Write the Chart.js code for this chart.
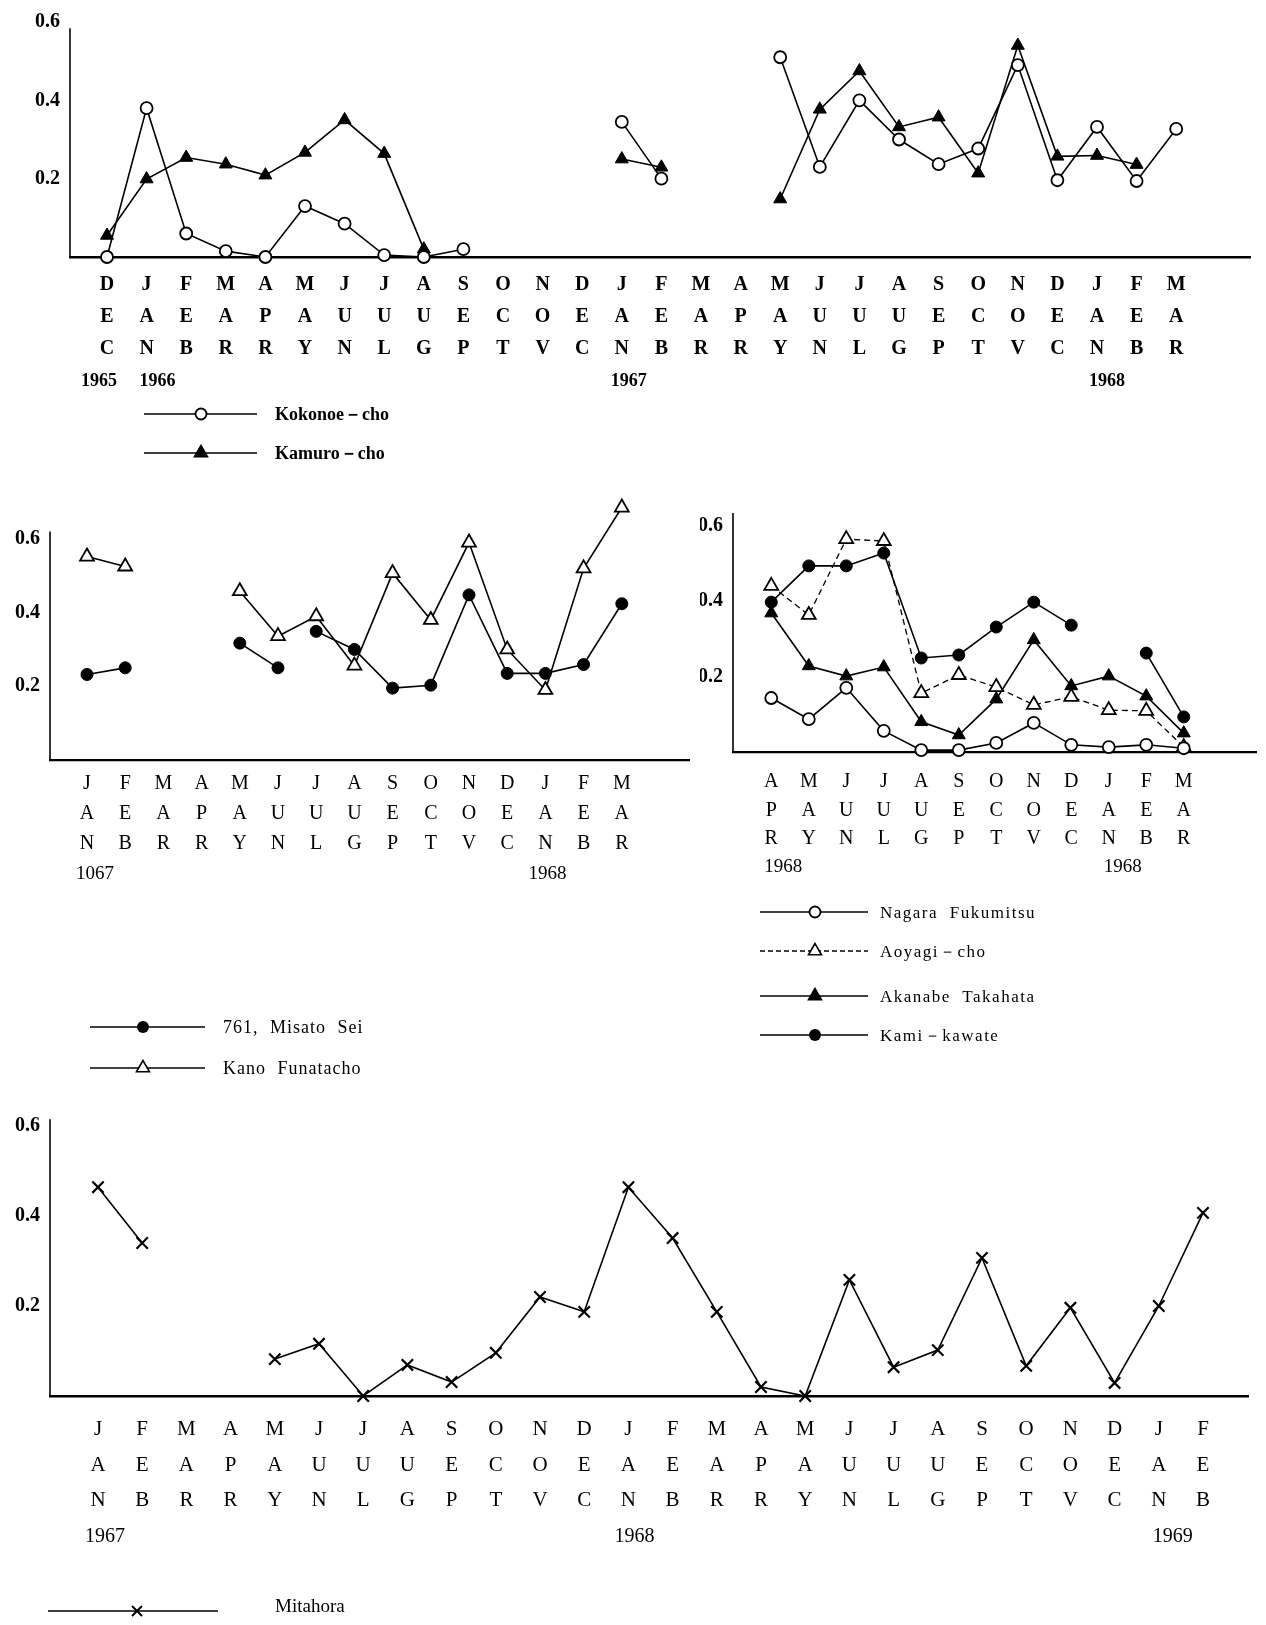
<!DOCTYPE html>
<html><head><meta charset="utf-8">
<script src="https://cdn.jsdelivr.net/npm/chart.js@4.4.1/dist/chart.umd.min.js"></script>
<style>
html,body{margin:0;padding:0;background:#fff;}
#page{position:relative;width:1266px;height:1625px;overflow:hidden;background:#fff;}
canvas{position:absolute;}
.leg{position:absolute;font-family:'Liberation Serif',serif;color:#000;white-space:nowrap;transform:translateY(-50%);line-height:1;}
svg.lg{position:absolute;left:0;top:0;width:1266px;height:1625px;overflow:visible;pointer-events:none;}
</style></head><body><div id="page">
<canvas id="c1"></canvas><canvas id="c2"></canvas><canvas id="c3"></canvas><canvas id="c4"></canvas>
<svg class="lg" id="lg" xmlns="http://www.w3.org/2000/svg"></svg>
</div>
<script>
// ---------- DATA ----------
const yTicks = [0.2, 0.4, 0.6];

// Chart 1: Dec 1965 - Mar 1968
const c1Months = ['DEC','JAN','FEB','MAR','APR','MAY','JUN','JUL','AUG','SEP','OCT','NOV','DEC','JAN','FEB','MAR','APR','MAY','JUN','JUL','AUG','SEP','OCT','NOV','DEC','JAN','FEB','MAR'];
const c1Years  = ['1965','1966','','','','','','','','','','','','1967','','','','','','','','','','','','1968','',''];
const c1Kokonoe = [0, 0.38, 0.06, 0.015, 0, 0.13, 0.085, 0.005, 0, 0.02, null, null, null, 0.345, 0.20, null, null, 0.51, 0.23, 0.40, 0.30, 0.237, 0.277, 0.49, 0.196, 0.332, 0.194, 0.327];
const c1Kamuro  = [0.055, 0.199, 0.254, 0.237, 0.209, 0.267, 0.35, 0.264, 0.02, null, null, null, null, 0.25, 0.229, null, null, 0.148, 0.377, 0.475, 0.332, 0.357, 0.214, 0.54, 0.257, 0.259, 0.236, null];

// Chart 2: Jan 1967 - Mar 1968
const c2Months = ['JAN','FEB','MAR','APR','MAY','JUN','JUL','AUG','SEP','OCT','NOV','DEC','JAN','FEB','MAR'];
const c2Years  = ['1067','','','','','','','','','','','','1968','',''];
const c2Misato = [0.232, 0.25, null, null, 0.317, 0.25, 0.349, 0.30, 0.195, 0.203, 0.448, 0.235, 0.235, 0.259, 0.424];
const c2MisatoBreaks = [5];
const c2Kano   = [0.552, 0.525, null, null, 0.458, 0.336, 0.39, 0.256, 0.507, 0.38, 0.59, 0.30, 0.19, 0.52, 0.685];

// Chart 3: Apr 1968 - Mar
const c3Months = ['APR','MAY','JUN','JUL','AUG','SEP','OCT','NOV','DEC','JAN','FEB','MAR'];
const c3Years  = ['1968','','','','','','','','','1968','',''];
const c3Nagara  = [0.143, 0.087, 0.17, 0.056, 0.005, 0.005, 0.024, 0.077, 0.019, 0.013, 0.019, 0.01];
const c3Aoyagi  = [0.44, 0.363, 0.564, 0.559, 0.156, 0.204, 0.172, 0.125, 0.146, 0.111, 0.109, 0.013];
const c3Akanabe = [0.368, 0.228, 0.201, 0.225, 0.08, 0.045, 0.14, 0.297, 0.175, 0.201, 0.148, 0.05];
const c3Kami    = [0.397, 0.493, 0.493, 0.527, 0.249, 0.257, 0.331, 0.397, 0.336, null, 0.262, 0.093];

// Chart 4: Jan 1967 - Feb 1969
const c4Months = ['JAN','FEB','MAR','APR','MAY','JUN','JUL','AUG','SEP','OCT','NOV','DEC','JAN','FEB','MAR','APR','MAY','JUN','JUL','AUG','SEP','OCT','NOV','DEC','JAN','FEB'];
const c4Years  = ['1967','','','','','','','','','','','','1968','','','','','','','','','','','','1969',''];
const c4Mitahora = [0.464, 0.34, null, null, 0.082, 0.116, 0, 0.069, 0.031, 0.096, 0.22, 0.187, 0.464, 0.351, 0.187, 0.02, 0, 0.258, 0.064, 0.102, 0.307, 0.067, 0.196, 0.029, 0.20, 0.407];

// ---------- HELPERS ----------
const SERIF = "'Liberation Serif', 'DejaVu Serif', serif";
function mkLabels(months){ return months.map(m => m.split('')); }
function pts(arr){ return arr.map((v,i)=>({x:i, y:v})); }

const MARK = {
  circleOpen:  {pointStyle:'circle',   pointRadius:6,   pointBackgroundColor:'#fff', pointBorderColor:'#000', pointBorderWidth:1.8},
  circleFill:  {pointStyle:'circle',   pointRadius:6,   pointBackgroundColor:'#000', pointBorderColor:'#000', pointBorderWidth:1},
  triOpen:     {pointStyle:'triangle', pointRadius:8,   pointBackgroundColor:'#fff', pointBorderColor:'#000', pointBorderWidth:1.8},
  triFill:     {pointStyle:'triangle', pointRadius:7.5, pointBackgroundColor:'#000', pointBorderColor:'#000', pointBorderWidth:1},
  cross:       {pointStyle:'crossRot', pointRadius:8,   pointBackgroundColor:'#000', pointBorderColor:'#000', pointBorderWidth:2.2}
};

function ds(label, arr, mark, extra){
  return Object.assign({label, data:pts(arr), borderColor:'#000', borderWidth:1.6, tension:0,
    spanGaps:false, clip:false, pointHoverRadius:0}, MARK[mark], extra||{});
}

// draws the y axis line up to a given value, and the year row under the month letters
const axisAndYears = {
  id:'axisAndYears',
  beforeDatasetsDraw(chart, args, o){
    const y = chart.scales.y, a = chart.chartArea, ctx = chart.ctx;
    ctx.save();
    ctx.strokeStyle = '#000'; ctx.lineWidth = 1.6;
    ctx.beginPath();
    ctx.moveTo(a.left, y.getPixelForValue(0));
    ctx.lineTo(a.left, y.getPixelForValue(o.axisTop));
    ctx.stroke();
    ctx.restore();
  },
  afterDraw(chart, args, o){
    const x = chart.scales.x, a = chart.chartArea, ctx = chart.ctx;
    ctx.save();
    ctx.fillStyle = '#000';
    ctx.font = o.font;
    ctx.textAlign = 'center'; ctx.textBaseline = 'middle';
    const yy = a.bottom + o.rowOffset;
    let k = 0;
    o.years.forEach((t,i)=>{
      if(!t) return;
      ctx.fillText(t, x.getPixelForValue(i) + o.dx[k], yy);
      k++;
    });
    ctx.restore();
  }
};

function buildChart(cfg){
  const cv = document.getElementById(cfg.id);
  const b = cfg.box, a = cfg.area;
  cv.width = b.w; cv.height = b.h;
  cv.style.left = b.x+'px'; cv.style.top = b.y+'px';
  const xmin = (a.left - cfg.x0)/cfg.dx, xmax = (a.right - cfg.x0)/cfg.dx;
  const labels = cfg.labels;
  return new Chart(cv, {
    type:'line',
    data:{datasets: cfg.datasets},
    plugins:[axisAndYears],
    options:{
      responsive:false, animation:false, devicePixelRatio:1,
      layout:{padding:{left:0, top:a.top-b.y, right:b.x+b.w-a.right, bottom:0}},
      plugins:{legend:{display:false}, tooltip:{enabled:false},
        axisAndYears:{axisTop:cfg.axisTop, years:cfg.years, dx:cfg.yearDx, font:cfg.yearFont,
                      rowOffset: cfg.xPad + 3.5*cfg.lh}},
      events:[],
      scales:{
        x:{type:'linear', min:xmin, max:xmax,
           grid:{display:false, drawTicks:false},
           border:{display:true, color:'#000', width:cfg.xBorder},
           afterFit: s=>{ s.height = b.y+b.h - a.bottom; },
           afterBuildTicks: s=>{ s.ticks = labels.map((_,i)=>({value:i})); },
           ticks:{autoSkip:false, maxRotation:0, minRotation:0, padding:cfg.xPad, color:'#000',
             font:{family:SERIF, size:cfg.xFont, weight:cfg.xWeight, lineHeight:cfg.lh+'px'},
             callback:(v)=>labels[v]}},
        y:{type:'linear', min:0, max:cfg.yMax,
           grid:{display:false, drawTicks:false},
           border:{display:false},
           afterFit: s=>{ s.width = a.left - b.x; },
           afterBuildTicks: s=>{ s.ticks = yTicks.map(v=>({value:v})); },
           ticks:{padding:10, color:'#000', font:{family:SERIF, size:20, weight:'bold'},
             callback:v=>Number(v).toFixed(1)}}
      }
    }
  });
}

// ---------- CHARTS ----------
buildChart({id:'c1', box:{x:0,y:0,w:1266,h:400},
  area:{left:70, right:1250, top:257-3*79.5, bottom:257},
  x0:107, dx:39.6, yMax:0.6, axisTop:0.584, xFont:20, xWeight:'bold', lh:32, xPad:12, xBorder:2.5,
  labels: mkLabels(c1Months), years:c1Years, yearDx:[-8, 11, 7, 10], yearFont:"bold 18px "+SERIF,
  datasets:[ ds('Kokonoe－cho', c1Kokonoe, 'circleOpen'), ds('Kamuro－cho', c1Kamuro, 'triFill') ]});

buildChart({id:'c2', box:{x:0,y:480,w:700,h:420},
  area:{left:50, right:689, top:760-0.7/0.2*75, bottom:760},
  x0:87, dx:38.2, yMax:0.7, axisTop:0.62, xFont:20, xWeight:'normal', lh:30, xPad:9, xBorder:2.2,
  labels: mkLabels(c2Months), years:c2Years, yearDx:[8, 2], yearFont:"19px "+SERIF,
  datasets:[
    ds('761, Misato Sei', c2Misato, 'circleFill', {segment:{borderColor: c => c2MisatoBreaks.includes(c.p0DataIndex) ? 'rgba(0,0,0,0)' : undefined}}),
    ds('Kano Funatacho', c2Kano, 'triOpen') ]});

buildChart({id:'c3', box:{x:700,y:480,w:566,h:420},
  area:{left:733, right:1266, top:752-0.633/0.2*75.5, bottom:752},
  x0:772, dx:38.2, yMax:0.633, axisTop:0.633, xFont:20, xWeight:'normal', lh:28.5, xPad:15.75, xBorder:2.2,
  labels: mkLabels(c3Months), years:c3Years, yearDx:[12, 14], yearFont:"19px "+SERIF,
  datasets:[
    ds('Nagara Fukumitsu', c3Nagara, 'circleOpen'),
    ds('Aoyagi－cho', c3Aoyagi, 'triOpen', {borderDash:[6,4], borderWidth:1.3}),
    ds('Akanabe Takahata', c3Akanabe, 'triFill'),
    ds('Kami－kawate', c3Kami, 'circleFill') ]});

buildChart({id:'c4', box:{x:0,y:1090,w:1266,h:470},
  area:{left:50, right:1248, top:1396-0.615/0.2*90, bottom:1396},
  x0:98, dx:44.2, yMax:0.615, axisTop:0.615, xFont:21, xWeight:'normal', lh:35.5, xPad:16, xBorder:2.5,
  labels: mkLabels(c4Months), years:c4Years, yearDx:[7, 6, 14], yearFont:"20px "+SERIF,
  datasets:[ ds('Mitahora', c4Mitahora, 'cross') ]});

// ---------- LEGENDS ----------
const svg = document.getElementById('lg');
const NS = 'http://www.w3.org/2000/svg';
function el(tag, attrs){ const e=document.createElementNS(NS,tag); for(const k in attrs) e.setAttribute(k,attrs[k]); svg.appendChild(e); return e; }
function marker(kind, x, y){
  if(kind==='circleOpen') el('circle',{cx:x,cy:y,r:5.5,fill:'#fff',stroke:'#000','stroke-width':1.8});
  else if(kind==='circleFill') el('circle',{cx:x,cy:y,r:6,fill:'#000'});
  else if(kind==='triOpen'||kind==='triFill'){
    const r = 7.5, h = r*Math.sqrt(3)/2;
    el('polygon',{points:`${x},${y-r} ${x-h},${y+r/2} ${x+h},${y+r/2}`, fill: kind==='triOpen'?'#fff':'#000', stroke:'#000','stroke-width':1.6});
  } else if(kind==='cross'){
    el('line',{x1:x-5,y1:y-5,x2:x+5,y2:y+5,stroke:'#000','stroke-width':2});
    el('line',{x1:x-5,y1:y+5,x2:x+5,y2:y-5,stroke:'#000','stroke-width':2});
  }
}
function legend(x1, x2, y, mx, kind, dashed, tx, ty, text, css){
  el('line',{x1:x1,y1:y,x2:x2,y2:y,stroke:'#000','stroke-width':1.5,'stroke-dasharray':dashed?'5,3':'none'});
  marker(kind, mx, y);
  const d = document.createElement('div');
  d.className='leg'; d.textContent=text;
  d.style.left = tx+'px'; d.style.top = ty+'px';
  Object.assign(d.style, css);
  document.getElementById('page').appendChild(d);
}
const L1 = {fontSize:'18px', fontWeight:'bold'};
legend(144, 257, 414, 201, 'circleOpen', false, 275, 414, 'Kokonoe－cho', L1);
legend(144, 257, 453, 201, 'triFill', false, 275, 453, 'Kamuro－cho', L1);

const L2 = {fontSize:'18px', letterSpacing:'1px', wordSpacing:'6px'};
legend(90, 205, 1027, 143, 'circleFill', false, 223, 1027, '761, Misato Sei', L2);
legend(90, 205, 1068, 143, 'triOpen', false, 223, 1068, 'Kano Funatacho', L2);

const L3 = {fontSize:'17px', letterSpacing:'1.5px', wordSpacing:'6px'};
legend(760, 868, 912, 815, 'circleOpen', false, 880, 912, 'Nagara Fukumitsu', L3);
legend(760, 868, 951, 815, 'triOpen', true, 880, 951, 'Aoyagi－cho', L3);
legend(760, 868, 996, 815, 'triFill', false, 880, 996, 'Akanabe Takahata', L3);
legend(760, 868, 1035, 815, 'circleFill', false, 880, 1035, 'Kami－kawate', L3);

legend(48, 218, 1611, 137, 'cross', false, 275, 1605, 'Mitahora', {fontSize:'19px'});
</script>
</body></html>
